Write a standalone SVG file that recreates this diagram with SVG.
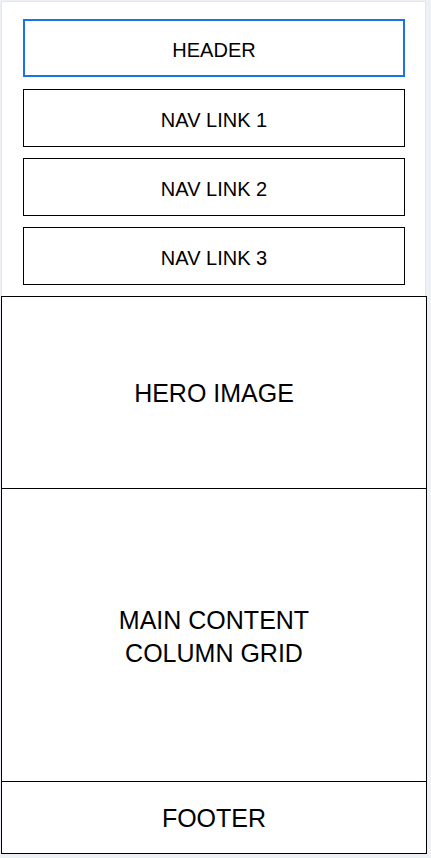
<svg xmlns="http://www.w3.org/2000/svg" width="431" height="858" viewBox="0 0 431 858">
<style>
.box{fill:#ffffff;stroke:#000000;stroke-width:1}
.hdr{fill:#ffffff;stroke:#1a73e8;stroke-width:2}
.t{font-family:"Liberation Sans",Arial,sans-serif;fill:#000000;text-anchor:middle}
.s{font-size:20px}
.l{font-size:25px}
</style>
<rect x="0" y="0" width="431" height="858" fill="#edf0f4"/>
<rect x="1.5" y="1.5" width="424" height="852" fill="#ffffff" stroke="#e2e5ea" stroke-width="1"/>
<g id="header">
<rect class="hdr" x="24" y="20" width="380" height="56"/>
<text class="t s" x="214" y="56.5">HEADER</text>
</g>
<g id="nav1">
<rect class="box" x="23.5" y="89.5" width="381" height="57"/>
<text class="t s" x="214" y="126.5">NAV LINK 1</text>
</g>
<g id="nav2">
<rect class="box" x="23.5" y="158.5" width="381" height="57"/>
<text class="t s" x="214" y="195.5">NAV LINK 2</text>
</g>
<g id="nav3">
<rect class="box" x="23.5" y="227.5" width="381" height="57"/>
<text class="t s" x="214" y="264.5">NAV LINK 3</text>
</g>
<g id="hero">
<rect class="box" x="1.5" y="296.5" width="425" height="192"/>
<text class="t l" x="214" y="402">HERO IMAGE</text>
</g>
<g id="main">
<rect class="box" x="1.5" y="488.5" width="425" height="293"/>
<text class="t l" x="214" y="628.5">MAIN CONTENT</text>
<text class="t l" x="214" y="661.5">COLUMN GRID</text>
</g>
<g id="footer">
<rect class="box" x="1.5" y="781.5" width="425" height="72"/>
<text class="t l" x="214" y="827">FOOTER</text>
</g>
<g id="connectors"></g>
</svg>
